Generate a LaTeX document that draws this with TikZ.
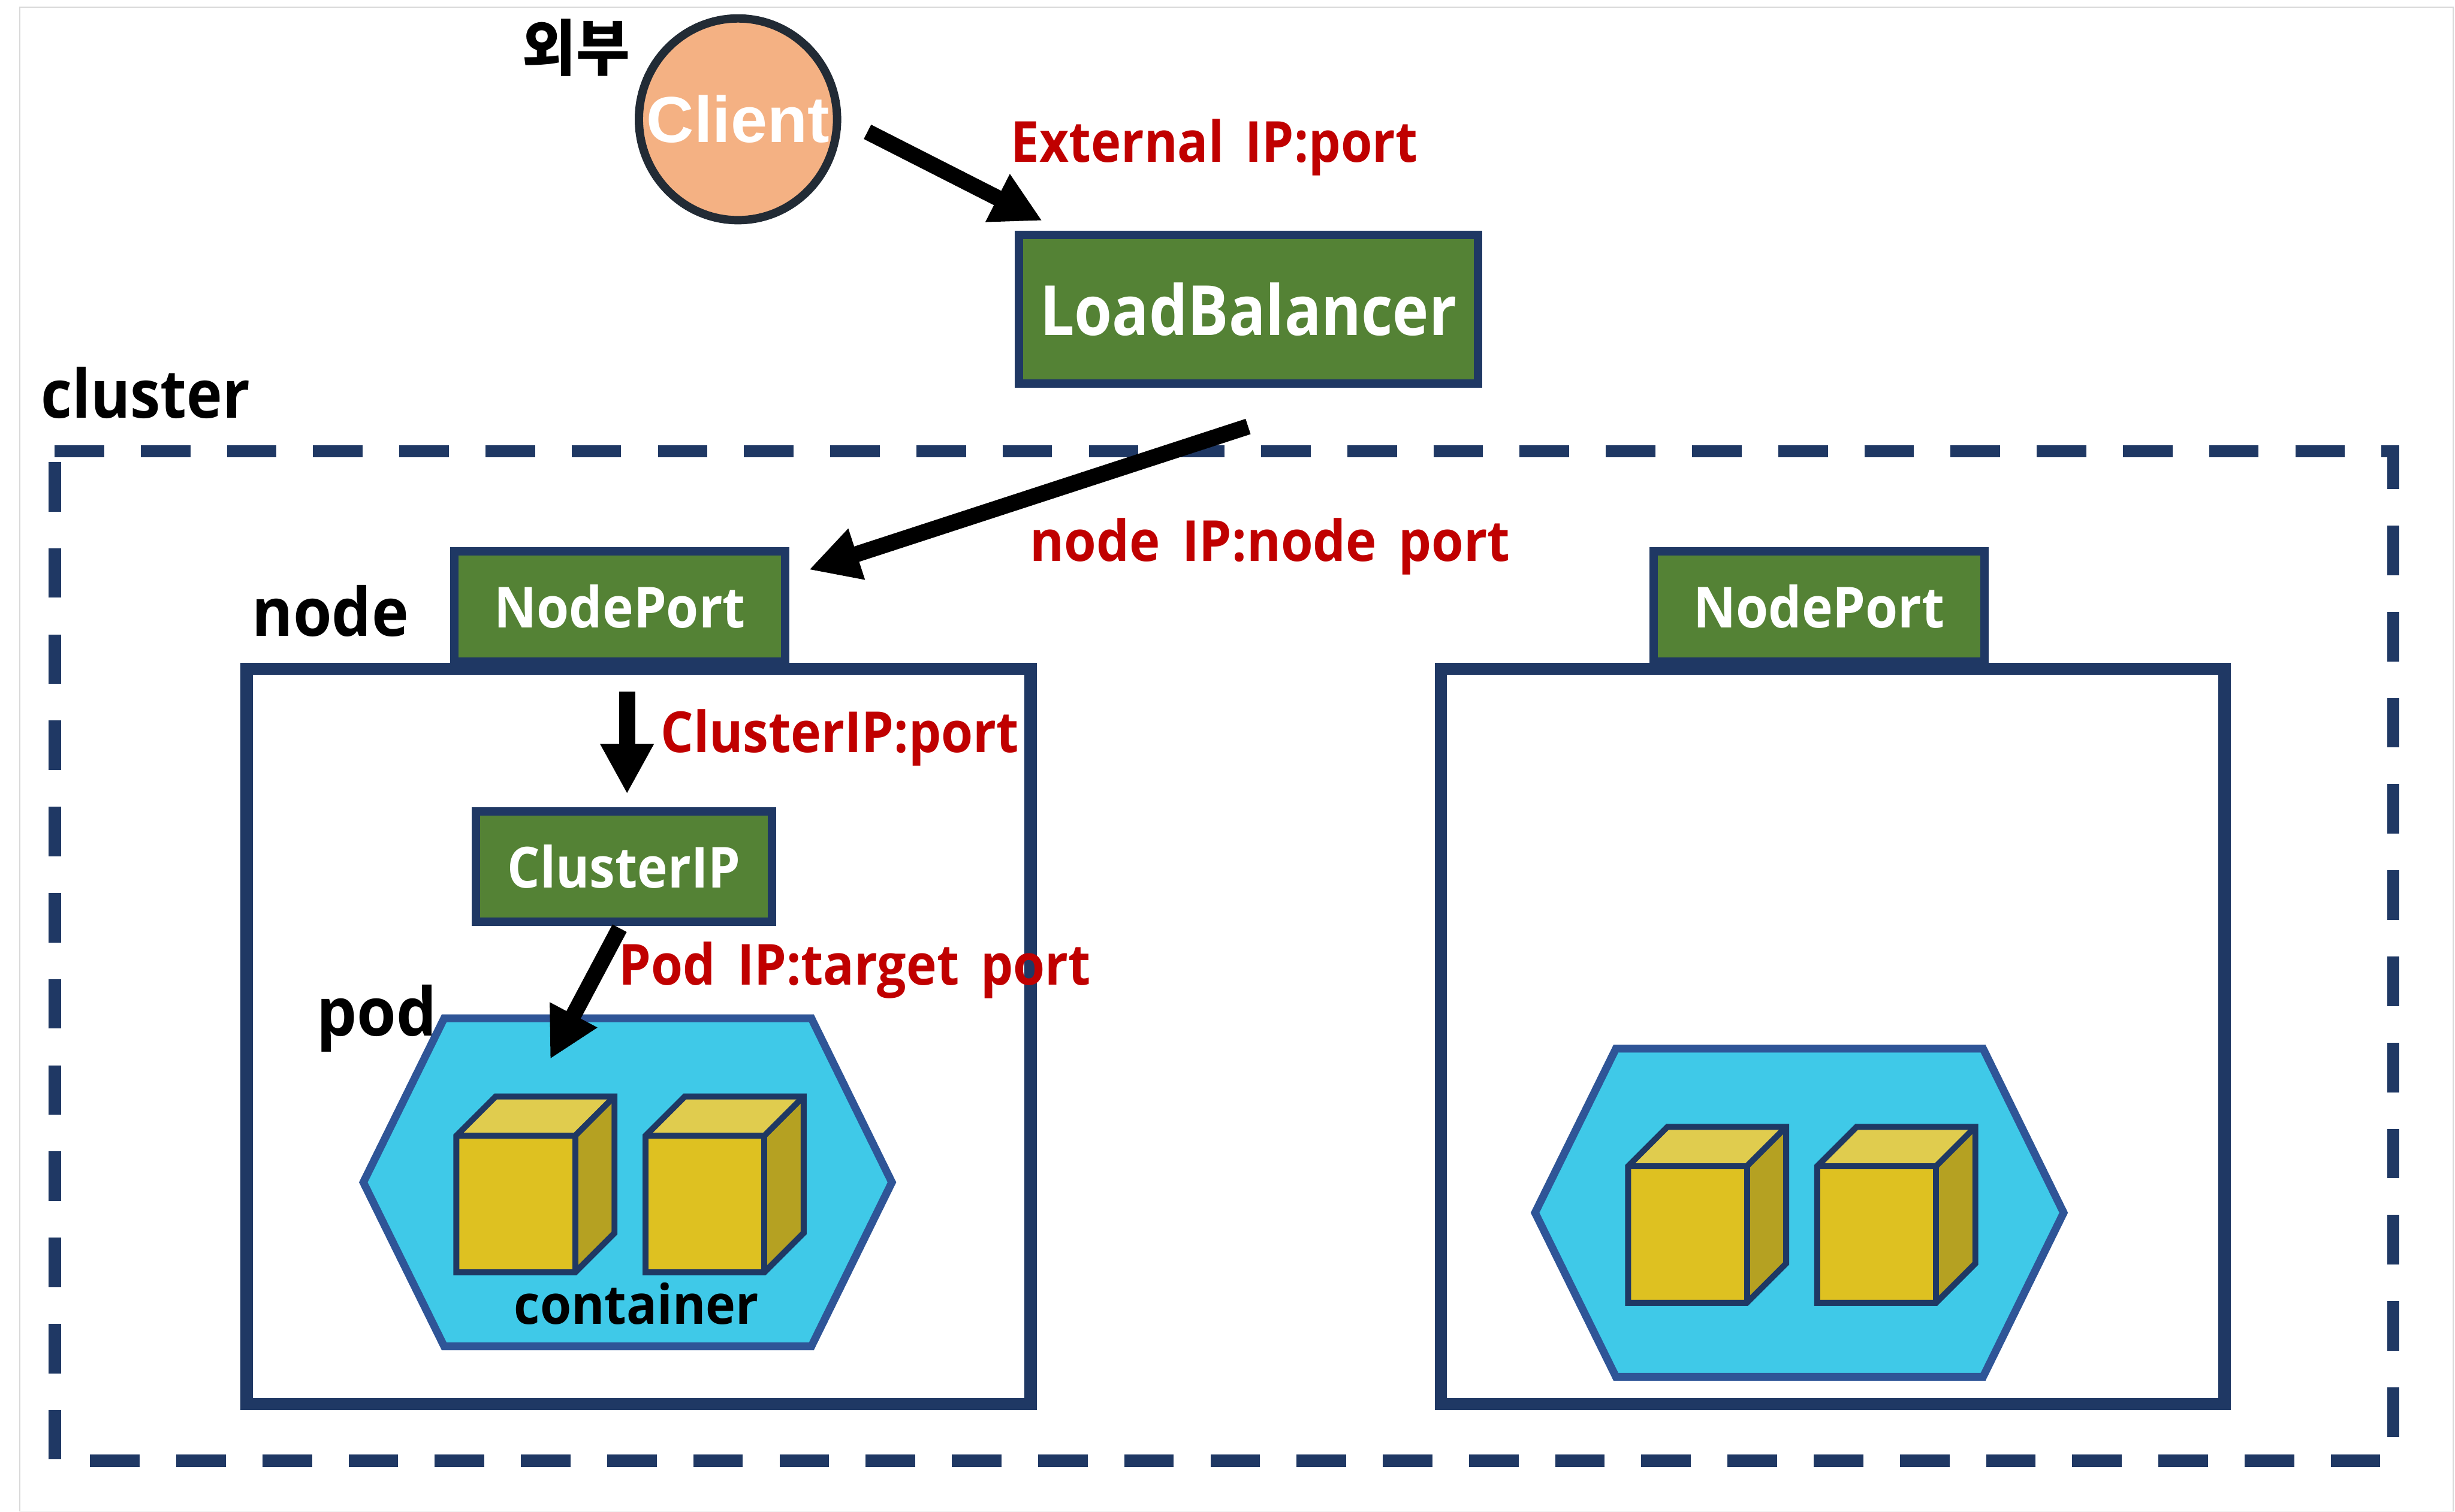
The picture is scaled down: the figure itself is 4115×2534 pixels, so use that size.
\documentclass[tikz,border=0pt]{standalone}
\usepackage{graphicx}
\usepackage{fontspec}
\setmainfont{Open Sans}
\newfontfamily\korfont{Noto Sans CJK KR}
\newfontfamily\arialfont{Liberation Sans}
\usetikzlibrary{arrows.meta,shapes.geometric}
\definecolor{navy}{HTML}{1F3864}
\definecolor{greenfill}{HTML}{548235}
\definecolor{redtxt}{HTML}{C00000}
\definecolor{podfill}{HTML}{3FC9E8}
\definecolor{podline}{HTML}{2F5597}
\definecolor{cubefront}{HTML}{DEC121}
\definecolor{cubetop}{HTML}{E0CC4E}
\definecolor{cubeside}{HTML}{B5A122}
\definecolor{clientfill}{HTML}{F4B183}
\definecolor{clientline}{HTML}{222B35}
\newcommand{\wtxt}[2]{\resizebox{#1cm}{\height}{#2}}
\newcommand{\wsp}{\hspace{0.42em}}
\tikzset{
  x=0.01cm,y=-0.01cm,
  framebox/.style={draw=black!15,line width=0.015cm,fill=white},
  clusterline/.style={draw=navy,line width=0.21cm,dash pattern=on 0.83cm off 0.6137cm},
  nodebox/.style={draw=navy,line width=0.21cm,fill=white,rectangle,inner sep=0pt},
  greenbox/.style={draw=navy,line width=0.14cm,fill=greenfill,rectangle,inner sep=0pt,text=white,font=\fontsize{27}{30}\selectfont\bfseries},
  lbl/.style={anchor=base west,inner sep=0pt,font=\fontsize{27}{30}\selectfont\bfseries},
  redlbl/.style={lbl,text=redtxt},
  bigarrow/.style={draw=black,line width=0.27cm,-{Triangle[length=0.84cm,width=0.84cm]}},
  podshape/.style={draw=podline,line width=0.13cm,fill=podfill,line join=miter},
  cubepic/.pic={
    \fill[cubefront] (0,0) rectangle (199,229);
    \fill[cubetop] (0,0) -- (66,-66) -- (265,-66) -- (199,0) -- cycle;
    \fill[cubeside] (199,0) -- (265,-66) -- (265,163) -- (199,229) -- cycle;
    \draw[navy,line width=0.1cm,line join=miter] (0,0) -- (66,-66) -- (265,-66) -- (265,163) -- (199,229) -- (0,229) -- cycle;
    \draw[navy,line width=0.1cm,line join=miter] (0,0) -- (199,0) -- (265,-66);
    \draw[navy,line width=0.1cm] (199,0) -- (199,229);
  },
  podpic/.pic={
    \path[podshape] (744.5,1707) -- (1360,1707) -- (1495,1982) -- (1360,2257) -- (744.5,2257) -- (609,1982) -- cycle;
    \path (765,1904) pic {cubepic};
    \path (1082,1904) pic {cubepic};
  }
}
\begin{document}
\begin{tikzpicture}
\useasboundingbox (0,0) rectangle (4115,2534);
\fill[white] (0,0) rectangle (4115,2534);
\path[framebox] (33,12) rectangle (4112,2533);
\path[clusterline] (91.5,756.5) -- (4011.5,756.5) -- (4011.5,2448.5) -- (91.5,2448.5) -- cycle;

% nodes
\node[nodebox,minimum width=13.14cm,minimum height=12.32cm] (nodeA) at (1070.5,1737.5) {};
\node[nodebox,minimum width=13.13cm,minimum height=12.32cm] (nodeB) at (3072,1737.5) {};
\node[greenbox,minimum width=5.54cm,minimum height=1.85cm] (npA) at (1039,1016.5) {\wtxt{4.21}{NodePort}};
\node[greenbox,minimum width=5.54cm,minimum height=1.85cm] (npB) at (3049,1016.5) {\wtxt{4.21}{NodePort}};
\node[greenbox,minimum width=7.69cm,minimum height=2.49cm,font=\fontsize{33}{36}\selectfont\bfseries] (lb) at (2092.5,518.5) {\wtxt{6.98}{LoadBalancer}};
\node[greenbox,minimum width=4.96cm,minimum height=1.85cm] (cip) at (1046,1452.5) {\wtxt{3.90}{ClusterIP}};
\node[ellipse,draw=clientline,line width=0.14cm,fill=clientfill,inner sep=0pt,minimum width=3.32cm,minimum height=3.38cm,text=white,font=\fontsize{31}{34}\selectfont\arialfont\bfseries] (client) at (1237,200) {\makebox[0pt]{\raisebox{-0.03cm}{\wtxt{3.06}{Client}}}};

% pods
\path (0,0) pic {podpic};
\path (1964,51) pic {podpic};

% connectors
\coordinate (a1s) at (1454,221);
\coordinate (a1e) at (1747,370);
\coordinate (a2s) at (2092,715);
\coordinate (a2e) at (1356,955);
\coordinate (a3s) at (1051,1159);
\coordinate (a3e) at (1051,1331);
\coordinate (a4s) at (1038.5,1556);
\coordinate (a4e) at (922,1775.5);
\draw[bigarrow] (a1s) -- (a1e);
\draw[bigarrow] (a2s) -- (a2e);
\draw[bigarrow] (a3s) -- (a3e);
\draw[bigarrow] (a4s) -- (a4e);

% labels
\node[lbl,font=\fontsize{29}{34}\selectfont\korfont\bfseries] (outer) at (875,118) {\wtxt{1.80}{외부}};
\node[lbl,font=\fontsize{32}{34}\selectfont\bfseries] (tcluster) at (68,701) {\wtxt{3.50}{cluster}};
\node[lbl,font=\fontsize{32}{34}\selectfont\bfseries] (tnode) at (422,1066) {\wtxt{2.62}{node}};
\node[lbl,font=\fontsize{32}{34}\selectfont\bfseries] (tpod) at (530,1737) {\wtxt{2.01}{pod}};
\node[lbl,font=\fontsize{26}{30}\selectfont\bfseries] (tcontainer) at (861,2220) {\wtxt{4.10}{container}};
\node[redlbl] (lext) at (1694,272) {\wtxt{6.81}{External\wsp IP:port}};
\node[redlbl] (lnode) at (1726,941) {\wtxt{8.04}{node\wsp IP:node\wsp port}};
\node[redlbl] (lclu) at (1107,1261) {\wtxt{6.00}{ClusterIP:port}};
\node[redlbl] (lpod) at (1037,1651) {\wtxt{7.90}{Pod\wsp IP:target\wsp port}};
\end{tikzpicture}
\end{document}
